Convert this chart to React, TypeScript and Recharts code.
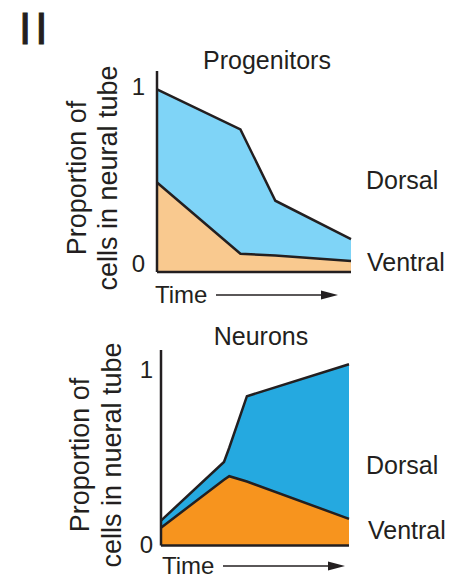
import { ComposedChart, Area, Line, XAxis, YAxis } from "recharts";

// progenitors (time as fraction of the x range)
const progTime = [0, 0.43, 0.61, 1];
const progVentral = [0.49, 0.1, 0.09, 0.06];
const progDorsal = [0.51, 0.68, 0.3, 0.12];

// neurons
const neuTime = [0, 0.335, 0.363, 0.457, 1];
const neuVentral = [0.1, 0.37, 0.39, 0.36, 0.15];
const neuDorsal = [0.04, 0.1, 0.16, 0.48, 0.87];

const yTicks = [0, 1];

const progenitorData = progTime.map((t, i) => ({
  t,
  ventral: progVentral[i],
  dorsal: progDorsal[i],
}));
const neuronData = neuTime.map((t, i) => ({
  t,
  ventral: neuVentral[i],
  dorsal: neuDorsal[i],
}));

const INK = "#231f20";
const FONT = "'Liberation Sans', Arial, Helvetica, sans-serif";
const AXIS_W = 40;

// tick label baseline offset from the tick position
function YTick(props: any) {
  const { x, y, payload, offsets } = props;
  return (
    <text
      x={x}
      y={y + (offsets[payload.value] ?? 0)}
      textAnchor="end"
      fontSize={24}
      fontFamily={FONT}
      fill={INK}
    >
      {payload.value}
    </text>
  );
}

function Panel({
  data,
  top,
  height,
  margin,
  tickMargin,
  offsets,
  ventralColor,
  dorsalColor,
}: any) {
  return (
    <div style={{ position: "absolute", left: 0, top, width: 465, height }}>
      <ComposedChart
        width={465}
        height={height}
        data={data}
        margin={{ ...margin, left: margin.left - AXIS_W, bottom: margin.bottom - 2 }}
      >
        <Area
          type="linear"
          dataKey="ventral"
          stackId="a"
          fill={ventralColor}
          fillOpacity={1}
          stroke="none"
          dot={false}
          activeDot={false}
          isAnimationActive={false}
        />
        <Area
          type="linear"
          dataKey="dorsal"
          stackId="a"
          fill={dorsalColor}
          fillOpacity={1}
          stroke={INK}
          strokeWidth={2.5}
          dot={false}
          activeDot={false}
          isAnimationActive={false}
        />
        {/* ventral boundary drawn over the dorsal fill */}
        <Line
          type="linear"
          dataKey="ventral"
          stroke={INK}
          strokeWidth={2.5}
          dot={false}
          activeDot={false}
          isAnimationActive={false}
        />
        <XAxis
          type="number"
          dataKey="t"
          domain={[0, 1]}
          height={2}
          tick={false}
          tickLine={false}
          axisLine={{ stroke: INK, strokeWidth: 2.5 }}
        />
        <YAxis
          type="number"
          domain={[0, 1.1]}
          ticks={yTicks}
          width={AXIS_W}
          tickSize={0}
          tickMargin={tickMargin}
          tickLine={false}
          tick={<YTick offsets={offsets} />}
          axisLine={{ stroke: INK, strokeWidth: 2.5 }}
        />
      </ComposedChart>
    </div>
  );
}

function TimeArrow({ y, x0 }: { y: number; x0: number }) {
  return (
    <g>
      <text x={x0} y={y + 8} fontSize={24} fontFamily={FONT} fill={INK}>
        Time
      </text>
      <line x1={x0 + 61} y1={y} x2={x0 + 168} y2={y} stroke={INK} strokeWidth={1.3} />
      <polygon
        points={`${x0 + 183},${y} ${x0 + 166},${y - 4.5} ${x0 + 166},${y + 4.5}`}
        fill={INK}
      />
    </g>
  );
}

export default function App() {
  return (
    <div
      style={{
        position: "absolute",
        left: 0,
        top: 0,
        width: 465,
        height: 580,
        background: "#fff",
      }}
    >
      <Panel
        data={progenitorData}
        top={0}
        height={300}
        margin={{ top: 71, right: 114, bottom: 28, left: 157 }}
        tickMargin={12}
        offsets={{ 0: 0, 1: 5.5 }}
        ventralColor="#f9c98f"
        dorsalColor="#7fd4f7"
      />
      <Panel
        data={neuronData}
        top={300}
        height={280}
        margin={{ top: 50, right: 116, bottom: 34.5, left: 161 }}
        tickMargin={8}
        offsets={{ 0: 7.5, 1: 10 }}
        ventralColor="#f7941e"
        dorsalColor="#25a9e0"
      />
      <svg
        width={465}
        height={580}
        style={{ position: "absolute", left: 0, top: 0, pointerEvents: "none" }}
        fontFamily={FONT}
        fill={INK}
      >
        <text x={19} y={44} fontSize={44} letterSpacing={4} stroke={INK} strokeWidth={1}>
          II
        </text>

        <text x={267} y={69} fontSize={25} textAnchor="middle">
          Progenitors
        </text>
        <text x={366} y={189} fontSize={25}>
          Dorsal
        </text>
        <text x={367} y={271} fontSize={25}>
          Ventral
        </text>
        <g transform="translate(86,178) rotate(-90)">
          <text x={0} y={0} fontSize={27} textAnchor="middle">
            Proportion of
          </text>
          <text x={0} y={31} fontSize={27} textAnchor="middle">
            cells in neural tube
          </text>
        </g>
        <TimeArrow y={295} x0={155} />

        <text x={261} y={345} fontSize={25} textAnchor="middle">
          Neurons
        </text>
        <text x={366} y={474} fontSize={25}>
          Dorsal
        </text>
        <text x={368} y={539} fontSize={25}>
          Ventral
        </text>
        <g transform="translate(89,455) rotate(-90)">
          <text x={0} y={0} fontSize={27} textAnchor="middle">
            Proportion of
          </text>
          <text x={0} y={32} fontSize={27} textAnchor="middle">
            cells in nueral tube
          </text>
        </g>
        <TimeArrow y={566} x0={162} />
      </svg>
    </div>
  );
}
